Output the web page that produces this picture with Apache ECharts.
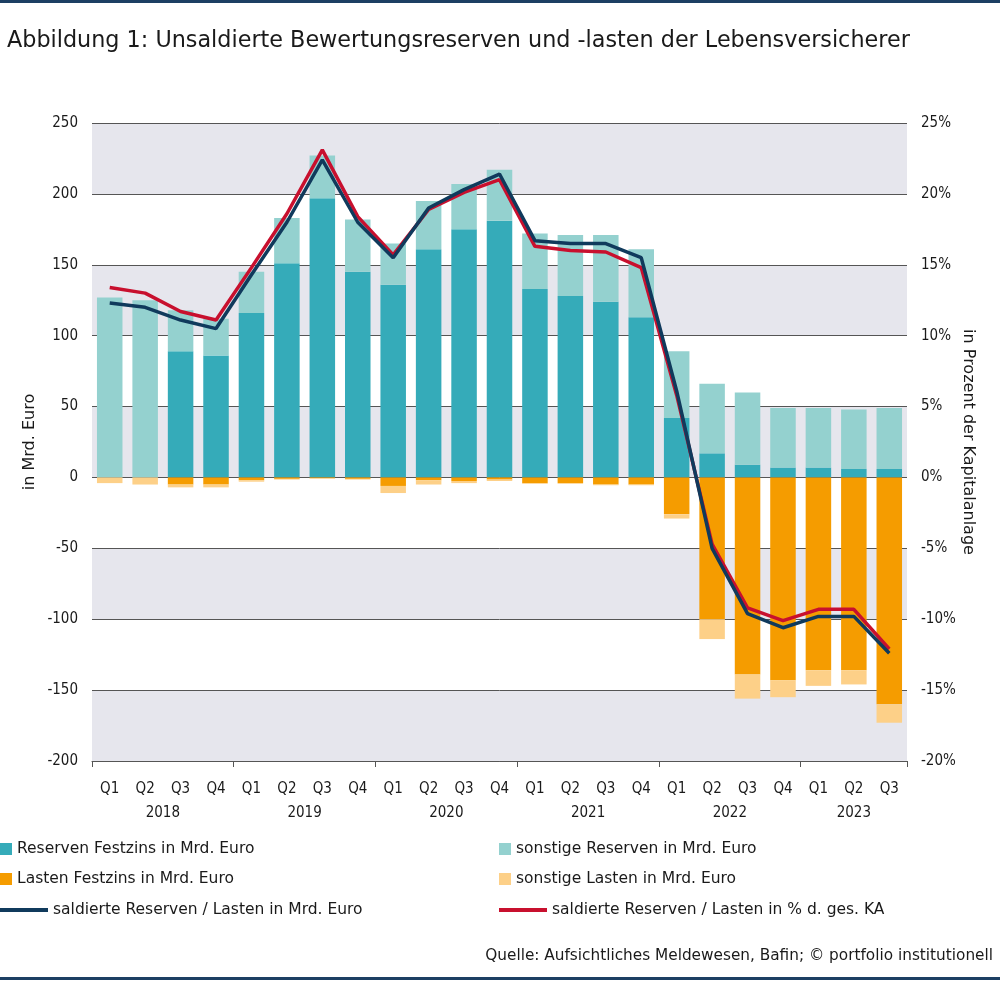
<!DOCTYPE html>
<html>
<head>
<meta charset="utf-8">
<script src="https://cdn.jsdelivr.net/npm/echarts@6/dist/echarts.min.js"></script>
<style>
html,body{margin:0;padding:0;background:#fff;}
#chart{width:1000px;height:981px;}
</style>
</head>
<body>
<div id="chart"></div>
<script>
// ---- data ----
var quarters = ['Q1','Q2','Q3','Q4','Q1','Q2','Q3','Q4','Q1','Q2','Q3','Q4','Q1','Q2','Q3','Q4','Q1','Q2','Q3','Q4','Q1','Q2','Q3'];
var years = ['2018','2019','2020','2021','2022','2023'];
var quartersPerYear = [4,4,4,4,4,3];
var reservenFestzins = [0,0,89,86,116,151,197,145,136,161,175,181,133,128,124,113,42,17,9,7,7,6,6];
var sonstigeReserven = [127,125,29,26,29,32,30,37,29,34,32,36,39,43,47,48,47,49,51,42,42,42,43];
var lastenFestzins = [0,0,-5,-5,-2,-1,-0.5,-1,-6,-2,-2.5,-1.5,-4,-4,-5,-5,-26,-100,-139,-143,-136,-136,-160];
var sonstigeLasten = [-4,-5,-2,-2,-1,-0.5,-0.5,-0.5,-5,-3,-1.5,-1,-0.5,-0.5,-0.5,-0.5,-3,-14,-17,-12,-11,-10,-13];
var saldiertMrd = [123,120,111,105,143,180,224,180,155,190,203,214,167,165,165,155,61,-50,-96,-106,-98,-98,-124];
var saldiertProzent = [13.4,13.0,11.7,11.1,14.8,18.6,23.1,18.4,15.7,18.9,20.1,21.0,16.3,16.0,15.9,14.8,5.8,-4.7,-9.2,-10.1,-9.3,-9.3,-12.1];
var leftTicks = {min:-200, max:250, interval:50};
var rightTicks = {min:-20, max:25, interval:5};

var names = {
  rf: 'Reserven Festzins in Mrd. Euro',
  sr: 'sonstige Reserven in Mrd. Euro',
  lf: 'Lasten Festzins in Mrd. Euro',
  sl: 'sonstige Lasten in Mrd. Euro',
  nm: 'saldierte Reserven / Lasten in Mrd. Euro',
  np: 'saldierte Reserven / Lasten in % d. ges. KA'
};
var colors = {rf:'#35abb9', sr:'#94d1cf', lf:'#f59c00', sl:'#fdd088', nm:'#103a5c', np:'#c8102e'};

// year label centres (in category units)
var yearCenters = [];
(function(){ var s = 0; for (var i = 0; i < years.length; i++) { yearCenters.push(s + quartersPerYear[i] / 2); s += quartersPerYear[i]; } })();

var FONT_C = '"DejaVu Sans Condensed", "DejaVu Sans", sans-serif';
var FONT = '"DejaVu Sans", sans-serif';
var TXT = '#1a1a1a';

var chart = echarts.init(document.getElementById('chart'), null, {renderer:'canvas'});

function legendItem(key, left, top, isLine) {
  return {
    data: [names[key]],
    left: left, top: top,
    padding: 0,
    orient: 'horizontal',
    icon: 'rect',
    itemWidth: isLine ? 48 : 12,
    itemHeight: isLine ? 4 : 12,
    itemGap: 0,
    textStyle: {fontFamily: FONT, fontSize: 15.5, color: TXT, padding: [0,0,0,0]}
  };
}

var option = {
  backgroundColor: '#fff',
  animation: false,
  title: [
    {text: 'Abbildung 1: Unsaldierte Bewertungsreserven und -lasten der Lebensversicherer', left: 2, top: 25,
     textStyle: {fontFamily: FONT, fontSize: 22.3, fontWeight: 'normal', color: TXT}},
    {text: 'Quelle: Aufsichtliches Meldewesen, Bafin; \u00a9 portfolio institutionell', right: 2, top: 944,
     textStyle: {fontFamily: FONT, fontSize: 15.3, fontWeight: 'normal', color: TXT}}
  ],
  graphic: [
    {type:'rect', left:0, top:0, shape:{width:1000, height:3}, style:{fill:'#1d3f63'}},
    {type:'rect', left:0, top:977, shape:{width:1000, height:3}, style:{fill:'#1d3f63'}}
  ],
  legend: [
    legendItem('rf', 0, 841, false),
    legendItem('sr', 499, 841, false),
    legendItem('lf', 0, 871, false),
    legendItem('sl', 499, 871, false),
    legendItem('nm', 0, 902, true),
    legendItem('np', 499, 902, true)
  ],
  grid: {left: 92, right: 93, top: 123, bottom: 220, containLabel: false, outerBoundsMode: 'none'},
  xAxis: [
    {
      type: 'category', data: quarters, boundaryGap: true,
      axisLine: {onZero: false, lineStyle: {color: '#555', width: 1}},
      axisTick: {show: true, length: 6, lineStyle: {color: '#555'}, interval: function (i) { return i % 4 === 0; }},
      axisLabel: {interval: 0, margin: 21, fontFamily: FONT_C, fontSize: 15, color: TXT},
      splitLine: {show: false}
    },
    {
      type: 'value', min: 0, max: quarters.length, interval: 0.5, position: 'bottom',
      axisLine: {show: false}, axisTick: {show: false}, splitLine: {show: false},
      axisLabel: {margin: 45, fontFamily: FONT_C, fontSize: 15, color: TXT, showMinLabel: true, showMaxLabel: true,
        formatter: function (v) {
          for (var i = 0; i < yearCenters.length; i++) { if (Math.abs(v - yearCenters[i]) < 1e-6) return years[i]; }
          return '';
        }}
    }
  ],
  yAxis: [
    {
      type: 'value', min: leftTicks.min, max: leftTicks.max, interval: leftTicks.interval, position: 'left',
      name: 'in Mrd. Euro', nameLocation: 'middle', nameGap: 54, nameMoveOverlap: false,
      nameTextStyle: {fontFamily: FONT, fontSize: 16, color: TXT},
      axisLine: {show: false}, axisTick: {show: false},
      axisLabel: {margin: 14, fontFamily: FONT_C, fontSize: 15, color: TXT},
      splitLine: {show: true, lineStyle: {color: '#555', width: 1}},
      splitArea: {show: true, areaStyle: {color: ['#e6e6ed', '#ffffff']}}
    },
    {
      type: 'value', min: rightTicks.min, max: rightTicks.max, interval: rightTicks.interval, position: 'right',
      name: 'in Prozent der Kapitalanlage', nameLocation: 'middle', nameGap: 53, nameRotate: -90, nameMoveOverlap: false,
      nameTextStyle: {fontFamily: FONT, fontSize: 16, color: TXT},
      axisLine: {show: false}, axisTick: {show: false},
      axisLabel: {margin: 14, fontFamily: FONT_C, fontSize: 15, color: TXT, formatter: '{value}%'},
      splitLine: {show: false}, splitArea: {show: false}
    }
  ],
  series: [
    {name: names.rf, type: 'bar', stack: 'a', barWidth: '72%', data: reservenFestzins, itemStyle: {color: colors.rf}, xAxisIndex: 0, yAxisIndex: 0},
    {name: names.sr, type: 'bar', stack: 'a', barWidth: '72%', data: sonstigeReserven, itemStyle: {color: colors.sr}, xAxisIndex: 0, yAxisIndex: 0},
    {name: names.lf, type: 'bar', stack: 'a', barWidth: '72%', data: lastenFestzins, itemStyle: {color: colors.lf}, xAxisIndex: 0, yAxisIndex: 0},
    {name: names.sl, type: 'bar', stack: 'a', barWidth: '72%', data: sonstigeLasten, itemStyle: {color: colors.sl}, xAxisIndex: 0, yAxisIndex: 0},
    {name: names.np, type: 'line', data: saldiertProzent, yAxisIndex: 1, xAxisIndex: 0, symbol: 'none', z: 5,
     lineStyle: {color: colors.np, width: 3.5}, itemStyle: {color: colors.np}},
    {name: names.nm, type: 'line', data: saldiertMrd, yAxisIndex: 0, xAxisIndex: 0, symbol: 'none', z: 6,
     lineStyle: {color: colors.nm, width: 3.5}, itemStyle: {color: colors.nm}}
  ]
};
chart.setOption(option);
</script>
</body>
</html>
